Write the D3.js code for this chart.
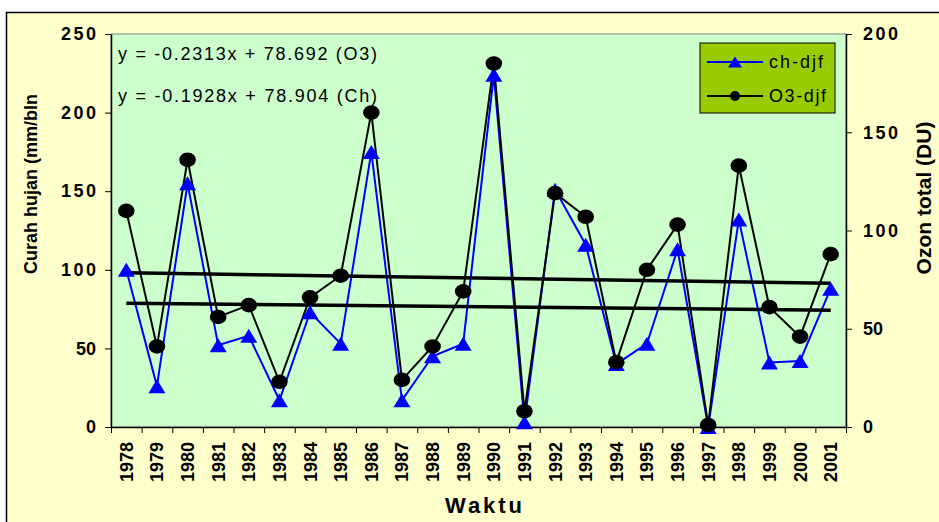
<!DOCTYPE html>
<html>
<head>
<meta charset="utf-8">
<script src="https://cdn.jsdelivr.net/npm/d3@7"></script>
<style>
  body { margin: 0; background: #fff; }
  svg text { font-family: "Liberation Sans", Arial, sans-serif; fill: #000; }
</style>
</head>
<body>
<script>
// data
const years = ["1978","1979","1980","1981","1982","1983","1984","1985","1986","1987","1988","1989",
               "1990","1991","1992","1993","1994","1995","1996","1997","1998","1999","2000","2001"];
const rain  = [100, 26, 155, 52, 58, 17, 73, 53, 175, 17, 45, 53,
               224, 3, 151, 116, 40, 53, 113, 0, 132, 41, 42, 88];
const ozone = [110, 41, 136, 56, 62, 23, 66, 77, 160, 24, 41, 69,
               185, 8, 119, 107, 33, 80, 103, 1, 133, 61, 46, 88];
const leftTicks = [0, 50, 100, 150, 200, 250];
const rightTicks = [0, 50, 100, 150, 200];
// trend lines: [O3, Ch]
const trendNames = ["O3", "Ch"];
const trendSlope = [-0.2313, -0.1928];
const trendIntercept = [78.692, 78.904];
const legendNames = ["ch-djf", "O3-djf"];

const width = 939, height = 522;
const margin = { top: 34, right: 93, bottom: 95, left: 111 };
const x0 = margin.left, x1 = width - margin.right;
const y0 = height - margin.bottom, y1 = margin.top;

const svg = d3.select("body").append("svg")
    .attr("width", width)
    .attr("height", height);

// chart area
svg.append("rect")
    .attr("x", 6.5).attr("y", 12.5)
    .attr("width", 1000).attr("height", 1000)
    .attr("fill", "#FFFFCC")
    .attr("stroke", "#000").attr("stroke-width", 1.5);

// plot area
svg.append("rect")
    .attr("x", x0).attr("y", y1)
    .attr("width", x1 - x0).attr("height", y0 - y1)
    .attr("fill", "#CCFFCC")
    .attr("stroke", "#808080").attr("stroke-width", 1);

let x = d3.scaleBand().domain(years).range([x0, x1]);
let xi = d3.scaleLinear().domain([0, years.length]).range([x0, x1]);
let yL = d3.scaleLinear().domain([0, 250]).range([y0, y1]);
let yR = d3.scaleLinear().domain([0, 200]).range([y0, y1]);
const cx = d => x(d) + x.bandwidth() / 2;

// axes
let gl = svg.append("g")
    .attr("transform", "translate(" + x0 + ",0)")
    .call(d3.axisLeft(yL).tickValues(leftTicks).tickSize(6).tickSizeOuter(0).tickPadding(9));
gl.selectAll("text").style("font-size", "18px").style("font-weight", "bold");
gl.selectAll(".tick").filter(d => d >= 100).select("text").attr("textLength", 35);

let gr = svg.append("g")
    .attr("transform", "translate(" + x1 + ",0)")
    .call(d3.axisRight(yR).tickValues(rightTicks).tickSize(6).tickSizeOuter(0).tickPadding(11));
gr.selectAll("text").style("font-size", "18px").style("font-weight", "bold");
gr.selectAll(".tick").filter(d => d >= 100).select("text").attr("textLength", 35);

let gb = svg.append("g")
    .attr("transform", "translate(0," + y0 + ")")
    .call(d3.axisBottom(xi).ticks(years.length).tickFormat("").tickSize(6).tickSizeOuter(0));

let gbl = svg.append("g")
    .attr("transform", "translate(0," + y0 + ")")
    .call(d3.axisBottom(x).tickSize(0));
gbl.select(".domain").remove();
gbl.selectAll("text")
    .attr("transform", "rotate(-90)")
    .attr("x", -15).attr("y", 0).attr("dy", "0.36em")
    .style("text-anchor", "end")
    .style("font-size", "18px").style("font-weight", "bold");

[gl, gr, gb].forEach(g => {
    g.select(".domain").attr("stroke", "#000").attr("stroke-width", 1.5);
    g.selectAll(".tick line").attr("stroke", "#000");
});

// axis titles
svg.append("text")
    .attr("transform", "translate(31," + 184 + ") rotate(-90)")
    .attr("text-anchor", "middle").attr("dy", "0.35em")
    .style("font-size", "18px").style("font-weight", "bold")
    .text("Curah hujan (mm/bln");

svg.append("text")
    .attr("transform", "translate(924," + 198 + ") rotate(-90)")
    .attr("text-anchor", "middle").attr("dy", "0.35em")
    .style("font-size", "21px").style("font-weight", "bold")
    .text("Ozon total (DU)");

svg.append("text")
    .attr("x", 445).attr("y", 513)
    .style("font-size", "22px").style("font-weight", "bold")
    .attr("textLength", 77)
    .text("Waktu");

// series lines
let lineRain = d3.line().x((d, i) => cx(years[i])).y(d => yL(d));
let lineOzone = d3.line().x((d, i) => cx(years[i])).y(d => yR(d));

svg.append("path").datum(rain)
    .attr("d", lineRain)
    .attr("fill", "none").attr("stroke", "#0000FF").attr("stroke-width", 2);

svg.append("path").datum(ozone)
    .attr("d", lineOzone)
    .attr("fill", "none").attr("stroke", "#000").attr("stroke-width", 2);

// trend lines
const trendScale = [yR, yL];
trendNames.forEach((n, k) => {
    let pts = [1, years.length].map(t => [cx(years[t - 1]), trendScale[k](trendSlope[k] * t + trendIntercept[k])]);
    svg.append("path")
        .attr("d", d3.line()(pts))
        .attr("fill", "none").attr("stroke", "#000").attr("stroke-width", 3.5);
});

// markers
const tri = (w, h) => "M0," + (-h / 2) + "L" + (w / 2) + "," + (h / 2) + "L" + (-w / 2) + "," + (h / 2) + "Z";

svg.selectAll(".tri")
    .data(rain)
    .enter()
    .append("path")
    .attr("class", "tri")
    .attr("d", tri(17, 14))
    .attr("transform", (d, i) => "translate(" + cx(years[i]) + "," + yL(d) + ")")
    .attr("fill", "#0000FF");

svg.selectAll(".dot")
    .data(ozone)
    .enter()
    .append("ellipse")
    .attr("class", "dot")
    .attr("cx", (d, i) => cx(years[i]))
    .attr("cy", d => yR(d))
    .attr("rx", 8.3).attr("ry", 7.3)
    .attr("fill", "#000");

// equations
trendNames.forEach((n, k) => {
    svg.append("text")
        .attr("x", 118).attr("y", 60 + k * 42)
        .style("font-size", "18px")
        .attr("textLength", 259)
        .text("y = " + trendSlope[k] + "x + " + trendIntercept[k] + " (" + n + ")");
});

// legend
let lg = svg.append("g").attr("transform", "translate(700,43)");
lg.append("rect")
    .attr("width", 135).attr("height", 70)
    .attr("fill", "#99CC00").attr("stroke", "#000").attr("stroke-width", 1);
const legendColor = ["#0000FF", "#000"];
const legendLen = [54, 57];
legendNames.forEach((n, k) => {
    let yy = 19 + k * 34;
    lg.append("line")
        .attr("x1", 7).attr("x2", 63).attr("y1", yy).attr("y2", yy)
        .attr("stroke", legendColor[k]).attr("stroke-width", 2);
    if (k == 0) {
        lg.append("path").attr("d", tri(14, 11))
            .attr("transform", "translate(35," + yy + ")")
            .attr("fill", "#0000FF");
    } else {
        lg.append("circle").attr("cx", 35).attr("cy", yy).attr("r", 5).attr("fill", "#000");
    }
    lg.append("text")
        .attr("x", 69).attr("y", yy + 6)
        .style("font-size", "18px")
        .attr("textLength", legendLen[k])
        .text(n);
});
</script>
</body>
</html>
